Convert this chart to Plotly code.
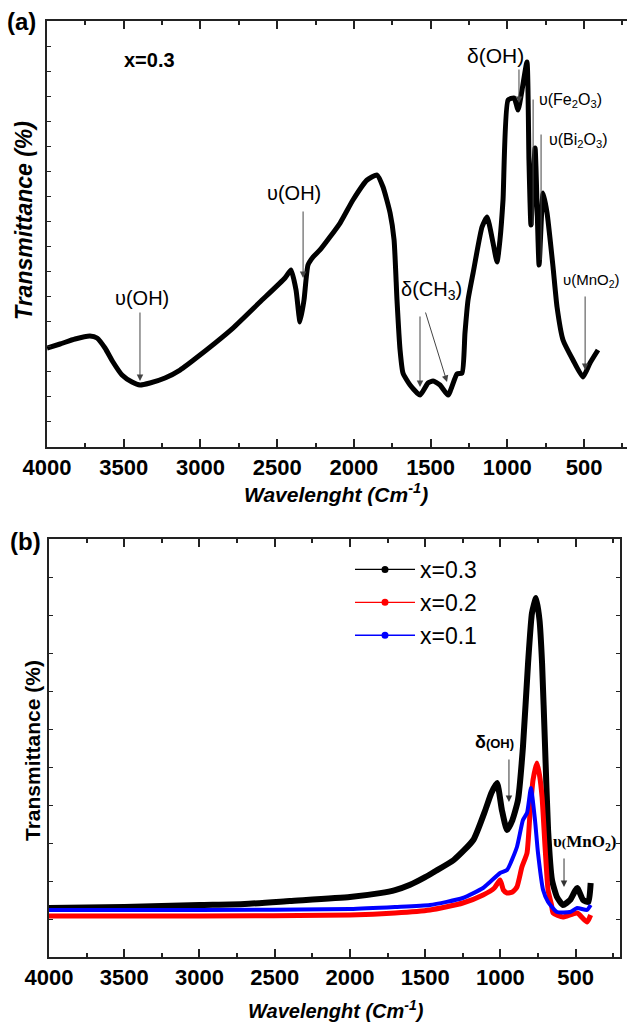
import plotly.graph_objects as go

# ---------------- Panel (a) data: x=0.3 FTIR spectrum ----------------
wn_a = [4000, 3915, 3817, 3720, 3674, 3622, 3570, 3511, 3446, 3394, 3329, 3231, 3133, 3003,
        2788, 2612, 2449, 2410, 2377, 2351, 2325, 2299, 2266, 2221, 2090, 2006, 1914, 1849,
        1810, 1764, 1738, 1719, 1699, 1680, 1634, 1569, 1517, 1484, 1439, 1386, 1328, 1295,
        1276, 1256, 1223, 1165, 1132, 1093, 1067, 1048, 1028, 995, 956, 930, 904, 872,
        859, 846, 819, 793, 767, 741, 702, 676, 637, 572, 507, 461, 409]
tr_a = [19.75, 20.55, 21.55, 22.15, 21.75, 19.75, 16.96, 14.37, 12.97, 12.37, 12.77, 13.77, 15.36, 18.36,
        23.74, 28.93, 33.72, 35.31, 31.32, 24.94, 29.33, 36.31, 37.91, 39.31, 44.69, 49.28, 53.27, 54.27,
        51.88, 46.69, 41.30, 29.33, 19.35, 14.76, 12.37, 10.37, 12.77, 13.17, 12.37, 10.37, 14.56, 14.76,
        22.75, 29.33, 34.72, 43.89, 45.89, 40.70, 36.91, 41.30, 49.28, 69.23, 69.63, 67.24, 71.23, 76.82,
        57.26, 44.29, 59.66, 36.31, 50.68, 46.69, 35.91, 27.93, 21.35, 17.36, 13.97, 16.76, 19.35]

# ---------------- Panel (b) data: three compositions ----------------
wn_b03 = [4000, 3500, 3000, 2700, 2400, 2000, 1800, 1700, 1600, 1500, 1440, 1310, 1180, 1100, 1060, 1022,
          990, 956, 920, 883, 850, 816, 790, 763, 740, 723, 703, 683, 657, 624, 584, 537,
          490, 450, 415, 400]
tr_b03 = [12.89, 13.16, 13.68, 13.95, 14.74, 15.79, 16.8, 17.6, 19.0, 21.0, 22.4, 25.53, 30.79, 38.68, 43.16, 45.79,
          38.68, 33.42, 36.05, 41.32, 55.26, 77.37, 90.53, 94.47, 88.68, 77.37, 55.26, 33.42, 20.26, 15.79,
          13.68, 15.0, 18.16, 15.0, 14.47, 19.47]

wn_b02 = [4000, 3000, 2000, 1700, 1468, 1250, 1115, 1040, 1002, 980, 956, 920, 890, 857, 823,
          803, 783, 757, 740, 723, 703, 683, 660, 650, 584, 490, 424, 400]
tr_b02 = [10.79, 10.79, 11.05, 11.58, 12.37, 14.21, 16.32, 18.16, 20.26, 17.63, 16.84, 17.1, 18.42, 23.68, 27.37,
          37.89, 46.58, 51.05, 47.9, 42.1, 28.95, 17.63, 13.68, 11.58, 10.53, 11.58, 9.21, 11.05]

wn_b01 = [4000, 3000, 2000, 1700, 1468, 1250, 1115, 1069, 1002, 956, 890, 850, 823, 797, 770,
          750, 716, 683, 624, 537, 490, 424, 400]
tr_b01 = [12.37, 12.37, 12.63, 13.16, 13.68, 15.53, 18.16, 19.74, 22.1, 22.89, 28.95, 36.05, 37.89, 44.47, 36.05,
          27.37, 17.63, 14.47, 11.84, 11.84, 12.89, 12.37, 13.68]

series_b = [("x=0.3", wn_b03, tr_b03, "black", 6),
            ("x=0.2", wn_b02, tr_b02, "#ff0000", 5),
            ("x=0.1", wn_b01, tr_b01, "#0000ff", 4)]

xticks = [4000, 3500, 3000, 2500, 2000, 1500, 1000, 500]

W, H = 627, 1023
FONT = "Liberation Sans, Arial, sans-serif"
SERIF = "Liberation Serif, Times New Roman, serif"
AX = "#222222"

fig = go.Figure()

fig.add_trace(go.Scatter(x=wn_a, y=tr_a, mode="lines", showlegend=False,
                         line=dict(color="black", width=5, shape="spline", smoothing=0.5),
                         xaxis="x", yaxis="y"))

for name, xs, ys, col, w in series_b:
    fig.add_trace(go.Scatter(x=xs, y=ys, mode="lines", showlegend=False,
                             line=dict(color=col, width=w, shape="spline", smoothing=0.5),
                             xaxis="x2", yaxis="y2"))
for name, xs, ys, col, w in series_b:
    fig.add_trace(go.Scatter(x=[None], y=[None], mode="lines+markers", name=name,
                             line=dict(color=col, width=1.3), marker=dict(color=col, size=7),
                             xaxis="x2", yaxis="y2"))

def xax(domain, rng, anchor):
    return dict(domain=domain, range=rng, anchor=anchor, showgrid=False, zeroline=False,
                automargin=False,
                showline=True, linecolor=AX, linewidth=2, mirror="ticks",
                ticks="inside", ticklen=8, tickwidth=1.5, tickcolor=AX,
                tickmode="array", tickvals=xticks, ticktext=[str(v) for v in xticks],
                tickfont=dict(family=FONT, size=22, color="black", weight="bold"),
                minor=dict(dtick=250, tick0=0, ticks="inside", ticklen=4, tickwidth=1.5, tickcolor=AX))

def yax(domain, rng, dt, anchor, mirror):
    return dict(domain=domain, range=rng, anchor=anchor, showgrid=False, zeroline=False,
                automargin=False,
                showline=True, linecolor=AX, linewidth=2, mirror=mirror,
                ticks="inside", ticklen=4, tickwidth=1.2, tickcolor=AX, dtick=dt, tick0=0,
                showticklabels=False)

ya_dom = [1 - 447 / H, 1 - 21 / H]
yb_dom = [1 - 957 / H, 1 - 539 / H]

fig.update_layout(
    width=W, height=H, margin=dict(l=0, r=0, t=0, b=0, autoexpand=False),
    paper_bgcolor="white", plot_bgcolor="white",
    xaxis=xax([47 / W, 1.0], [4000, 220], "y"),
    yaxis=yax(ya_dom, [0, 85], 5, "x", False),
    xaxis2=xax([49 / W, 620 / W], [4000, 205], "y2"),
    yaxis2=yax(yb_dom, [0, 110], 10, "x2", "ticks"),
    legend=dict(x=350 / W, y=1 - 548 / H, xanchor="left", yanchor="top",
                font=dict(family=FONT, size=23, color="black"),
                bgcolor="rgba(0,0,0,0)", itemwidth=60, tracegroupgap=0),
)

ann = []
def txt(x, y, text, size, xref="paper", yref="paper", family=FONT, **kw):
    ann.append(dict(x=x, y=y, xref=xref, yref=yref, text=text, showarrow=False,
                    xanchor="center", yanchor="middle",
                    font=dict(family=family, size=size, color="black"), **kw))

def arrow(x0, y0, x1, y1, xr, yr, head=2, color="#444444"):
    ann.append(dict(x=x1, y=y1, ax=x0, ay=y0, xref=xr, yref=yr, axref=xr, ayref=yr,
                    text="", showarrow=True, arrowhead=head, arrowsize=1.3, arrowwidth=1,
                    arrowcolor=color, standoff=0, startstandoff=0))

# panel labels
txt(21 / W, 1 - 22 / H, "<b>(a)</b>", 24)
txt(25 / W, 1 - 541 / H, "<b>(b)</b>", 24)
txt(149 / W, 1 - 60 / H, "<b>x=0.3</b>", 20)

# axis titles
txt(336 / W, 1 - 493 / H, "<b><i>Wavelenght (Cm<sup>-1</sup>)</i></b>", 21)
txt(336 / W, 1 - 1009 / H, "<b><i>Wavelenght (Cm<sup>-1</sup>)</i></b>", 20)
txt(24 / W, 1 - 221 / H, "<b><i>Transmittance (%)</i></b>", 23, textangle=-90)
txt(32 / W, 1 - 751 / H, "<b>Transmittance (%)</b>", 21, textangle=-90)

# panel (a) band labels (data coordinates)
txt(3381, 29.73, "υ(OH)", 20, "x", "y")
arrow(3394, 27.13, 3394, 13.17, "x", "y")
txt(2390, 50.68, "υ(OH)", 20, "x", "y")
arrow(2331, 47.29, 2331, 33.72, "x", "y")
txt(1491, 31.32, "δ(CH<sub>3</sub>)", 20, "x", "y")
arrow(1569, 26.34, 1569, 11.97, "x", "y")
arrow(1536, 27.13, 1393, 12.97, "x", "y")
txt(454, 33.32, "υ(MnO<sub>2</sub>)", 15, "x", "y")
arrow(493, 30.33, 493, 15.36, "x", "y")
txt(1080, 78.21, "δ(OH)", 21, "x", "y")
arrow(924, 75.62, 924, 68.64, "x", "y")
txt(585, 69.23, "υ(Fe<sub>2</sub>O<sub>3</sub>)", 16, "x", "y")
arrow(832, 69.63, 832, 44.29, "x", "y", head=0)
txt(539, 61.25, "υ(Bi<sub>2</sub>O<sub>3</sub>)", 16, "x", "y")
arrow(780, 62.65, 780, 37.3, "x", "y", head=0)

# panel (b) band labels
txt(1042, 56.58, "<b>δ</b><b><span style='font-size:13px'>(OH)</span></b>", 18, "x2", "y2")
arrow(943, 52.37, 943, 40.79, "x2", "y2", color="#333333")
txt(437, 30.0, "<b>υ<span style='font-size:13px'>(</span>MnO<sub>2</sub>)</b>", 17, "x2", "y2", family=SERIF)
arrow(577, 26.32, 577, 18.42, "x2", "y2", color="#333333")

fig.update_layout(annotations=ann)
fig.write_html("out.html")
